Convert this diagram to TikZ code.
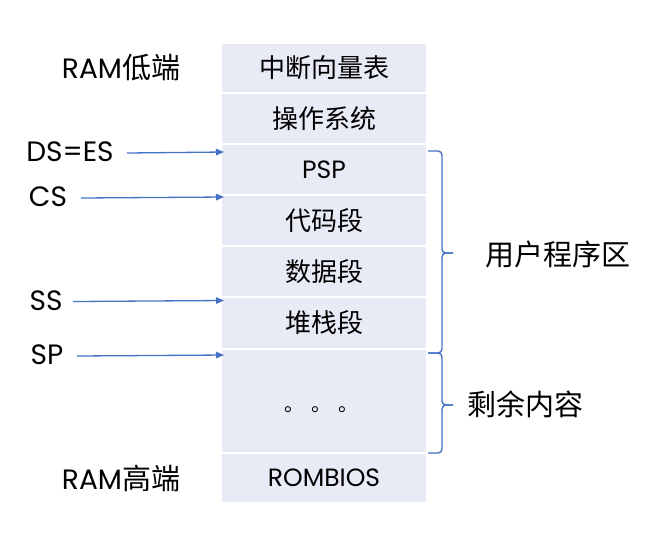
\documentclass[tikz,border=0pt]{standalone}
\usepackage{fontspec}
\setmainfont{Poppins}
\newfontfamily\cjk{Noto Sans CJK SC}
\usetikzlibrary{arrows.meta}
\definecolor{cellfill}{HTML}{E8EAF5}
\definecolor{arrblue}{HTML}{4472C4}
\tikzset{
  cell/.style={rectangle, fill=cellfill, draw=white, line width=1.6pt, minimum width=206pt, inner sep=0pt, font=\fontsize{25}{28}\selectfont},
  lbl/.style={inner sep=0pt, font=\fontsize{28}{31}\selectfont},
  ptr/.style={draw=arrblue, line width=1.3pt, -{Triangle[length=8pt,width=6.5pt]}},
  brc/.style={draw=arrblue, line width=1.4pt, rounded corners=4pt},
}
\begin{document}
\begin{tikzpicture}[x=1pt,y=-1pt]
\useasboundingbox (0,0) rectangle (660,550);
\node[cell, minimum height=50pt] (r1) at (324,68) {\fontsize{26}{29}\selectfont\cjk 中断向量表};
\node[cell, minimum height=51pt] (r2) at (324,118.5) {\fontsize{26}{29}\selectfont\cjk 操作系统};
\node[cell, minimum height=51pt] (r3) at (324,169.5) {PSP};
\node[cell, minimum height=51pt] (r4) at (324,220.5) {\fontsize{26}{29}\selectfont\cjk 代码段};
\node[cell, minimum height=51pt] (r5) at (324,271.5) {\fontsize{26}{29}\selectfont\cjk 数据段};
\node[cell, minimum height=52pt] (r6) at (324,323) {\fontsize{26}{29}\selectfont\cjk 堆栈段};
\node[cell, minimum height=104pt] (r7) at (324,401) {};
\node[cell, minimum height=50pt] (r8) at (324,478) {ROMBIOS};
\node[inner sep=0pt, font=\fontsize{20}{22}\selectfont\cjk] (dots) at (321,410) {。\hspace{7pt}。\hspace{7pt}。};

\node[lbl] (low) at (121,68) {RAM{\fontsize{29}{31}\selectfont\cjk 低端}};
\node[lbl] (high) at (121,478) {RAM{\fontsize{29}{31}\selectfont\cjk 高端}};
\node[lbl] (ds) at (70,152) {DS=ES};
\node[lbl] (cs) at (48,197) {CS};
\node[lbl] (ss) at (46,301) {SS};
\node[lbl] (sp) at (47,355) {SP};

\coordinate (dsS) at (127,153);
\coordinate (csS) at (81,198);
\coordinate (ssS) at (73,301.5);
\coordinate (spS) at (77,356);
\coordinate (dsT) at (224,152);
\coordinate (csT) at (224,197);
\coordinate (ssT) at (224,300.5);
\coordinate (spT) at (224,355);
\draw[ptr] (dsS) -- (dsT);
\draw[ptr] (csS) -- (csT);
\draw[ptr] (ssS) -- (ssT);
\draw[ptr] (spS) -- (spT);

\coordinate (b1t) at (428,151);
\coordinate (b1s) at (442,151);
\coordinate (b1m) at (442,253);
\coordinate (b1p) at (453,253);
\coordinate (b1e) at (442,353);
\coordinate (b1b) at (428,353);
\draw[brc] (b1t) -- (b1s) -- (b1m) -- (b1p);
\draw[brc] (b1p) -- (b1m) -- (b1e) -- (b1b);
\coordinate (b2t) at (428,353);
\coordinate (b2s) at (442,353);
\coordinate (b2m) at (442,405);
\coordinate (b2p) at (453,405);
\coordinate (b2e) at (442,453);
\coordinate (b2b) at (428,453);
\draw[brc] (b2t) -- (b2s) -- (b2m) -- (b2p);
\draw[brc] (b2p) -- (b2m) -- (b2e) -- (b2b);
\node[inner sep=0pt, font=\fontsize{29}{31}\selectfont\cjk] (user) at (558,254) {用户程序区};
\node[inner sep=0pt, font=\fontsize{29}{31}\selectfont\cjk] (rest) at (525,404) {剩余内容};
\end{tikzpicture}
\end{document}
